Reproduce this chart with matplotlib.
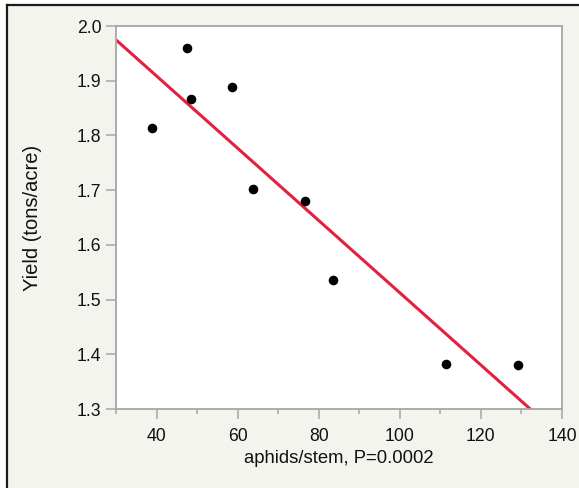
import numpy as np
import matplotlib
matplotlib.use("Agg")
import matplotlib.pyplot as plt
from matplotlib.lines import Line2D
from matplotlib.ticker import MultipleLocator

plt.rcParams['font.family'] = ['Liberation Sans', 'DejaVu Sans']

# Aphid density (aphids per stem) and crop yield (tons/acre)
aphids = [38.9, 47.4, 48.6, 58.7, 63.7, 76.7, 83.6, 111.4, 129.1]
yield_vals = [1.814, 1.959, 1.867, 1.888, 1.702, 1.680, 1.536, 1.382, 1.381]

x_ticks = [40, 60, 80, 100, 120, 140]
y_ticks = [1.3, 1.4, 1.5, 1.6, 1.7, 1.8, 1.9, 2.0]

BG = '#f4f4ef'
AXIS_GREY = '#a6a6a6'

fig = plt.figure(figsize=(5.79, 4.88), dpi=100)
fig.patch.set_facecolor('white')

# Panel background with a dark frame on the left and top edges
W, H = 579, 488
fx0, fy0 = 7 / W, 1 - 5 / H
fig.add_artist(plt.Rectangle((fx0, 0), 1 - fx0, fy0, transform=fig.transFigure,
                             facecolor=BG, edgecolor='none', zorder=-2))
fig.add_artist(Line2D([fx0, fx0], [0, fy0], transform=fig.transFigure,
                      color='#1a1a1a', lw=1.6, zorder=-1))
fig.add_artist(Line2D([fx0, 1], [fy0, fy0], transform=fig.transFigure,
                      color='#1a1a1a', lw=1.6, zorder=-1))

ax = fig.add_axes([116 / W, 1 - 409 / H, 446 / W, 383 / H])
ax.set_facecolor('white')

ax.scatter(aphids, yield_vals, s=48, color='black', zorder=3, linewidths=0)

# Least-squares fit line
slope, intercept = np.polyfit(aphids, yield_vals, 1)
xs = np.array([30, 140])
ax.plot(xs, intercept + slope * xs, color='#e5203f', lw=2.2, zorder=2,
        solid_capstyle='butt')

ax.set_xlim(30, 140)
ax.set_ylim(1.3, 2.0)
ax.set_xticks(x_ticks)
ax.set_yticks(y_ticks)
ax.set_yticklabels([f"{v:.1f}" for v in y_ticks])
ax.xaxis.set_minor_locator(MultipleLocator(10))

for s in ax.spines.values():
    s.set_color(AXIS_GREY)
    s.set_linewidth(1.3)

ax.tick_params(axis='both', which='major', length=7.5, width=1.1, color=AXIS_GREY,
               labelsize=12.7, labelcolor='#111111', direction='out')
ax.tick_params(axis='x', which='minor', length=3.8, width=1.1, color=AXIS_GREY,
               direction='out')
ax.tick_params(axis='x', which='major', pad=6.3)
ax.tick_params(axis='y', which='major', pad=3)

ax.set_xlabel('aphids/stem, P=0.0002', fontsize=13.3, color='#111111', labelpad=3.5)
ax.set_ylabel('Yield (tons/acre)', fontsize=14.5, color='#111111', labelpad=25)

fig.savefig('out.png', dpi=100, facecolor=fig.get_facecolor())
